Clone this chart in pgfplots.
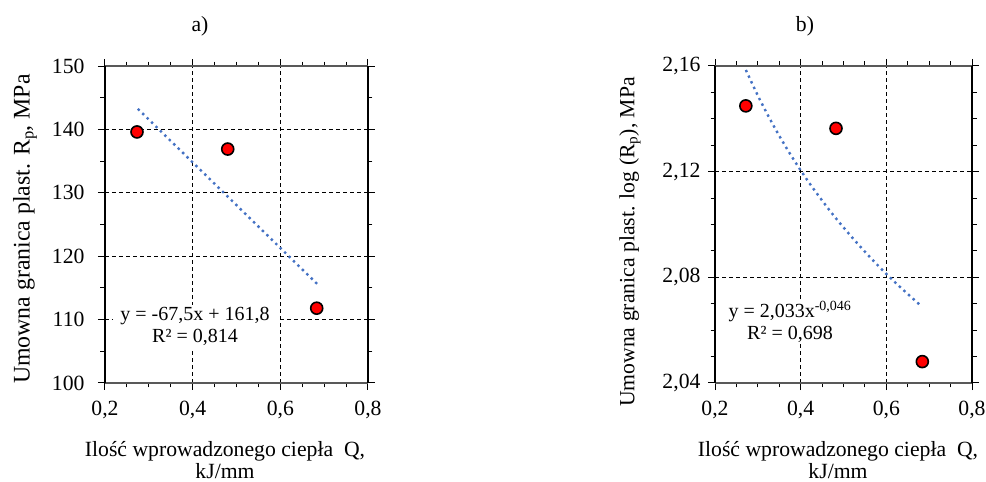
\documentclass[border=0pt]{standalone}
\usepackage{pgfplots}
\pgfplotsset{compat=1.18}
\usepackage{fontspec}
\setmainfont{Liberation Serif}
\definecolor{trend}{RGB}{68,114,196}
\newcommand\fs{\fontsize{21.7}{22}\selectfont}
\newcommand\fa{\fontsize{20}{22}\selectfont}
\pgfplotsset{
  common/.style={
    scale only axis, anchor=south west,
    xmin=0.2, xmax=0.8, xtick={0.2,0.4,0.6,0.8}, minor x tick num=3,
    tick align=outside, major tick length=7pt, minor tick length=4.5pt,
    tick style={black, line width=1pt},
    separate axis lines,
    x axis line style={line width=1.4pt, draw=gray!70!black},
    y axis line style={line width=1.4pt, draw=black},
    grid=major,
    major grid style={black, line width=0.9pt, dash pattern=on 4pt off 3pt},
    ticklabel style={font=\fs},
    /pgf/number format/assume math mode=true,
    /pgf/number format/use comma,
    xticklabel style={/pgf/number format/fixed, /pgf/number format/fixed zerofill, /pgf/number format/precision=1, yshift=-8pt},
    clip=false,
  },
  trendline/.style={draw=trend, line width=2.4pt, dash pattern=on 2.4pt off 3.8pt, mark=none},
  pts/.style={only marks, mark=*, mark size=6pt, mark options={fill=red, draw=black, line width=1.6pt}},
}
\begin{document}
\begin{tikzpicture}[x=1pt,y=1pt]
\path[use as bounding box] (0pt,0pt) rectangle (986pt,482pt);
% panel a
\begin{axis}[common, at={(105pt,99pt)}, width=263pt, height=317pt,
  ymin=100, ymax=150, ytick={100,110,120,130,140,150}, minor y tick num=1,
  yticklabel style={/pgf/number format/fixed, /pgf/number format/precision=0, xshift=-10pt}]
\addplot[trendline] coordinates {(0.275,143.24) (0.685,115.56)};
\addplot[pts] coordinates {(0.273,139.6) (0.48,136.9) (0.683,111.8)};
\end{axis}
% panel b
\begin{axis}[common, at={(715pt,99pt)}, width=257pt, height=317pt,
  ymin=2.04, ymax=2.16, ytick={2.04,2.08,2.12,2.16}, minor y tick num=3,
  yticklabel style={/pgf/number format/fixed, /pgf/number format/fixed zerofill, /pgf/number format/precision=2, xshift=-4pt}]
\addplot[trendline, smooth] coordinates {
(0.272,2.1585) (0.3,2.1488) (0.325,2.1409) (0.35,2.1336) (0.375,2.1268)
(0.4,2.1205) (0.425,2.1146) (0.45,2.1091) (0.475,2.1038) (0.5,2.0989)
(0.525,2.0942) (0.55,2.0897) (0.575,2.0854) (0.6,2.0813) (0.625,2.0774)
(0.65,2.0737) (0.683,2.0689)};
\addplot[pts] coordinates {(0.272,2.1449) (0.4825,2.1364) (0.684,2.0481)};
\end{axis}
% equation boxes
\node[fill=white, align=center, inner sep=0pt, minimum width=164pt, minimum height=43pt, font=\fa] at (195pt,155.5pt)
  {y = -67,5x + 161,8\\R² = 0,814};
\node[fill=white, align=center, inner sep=0pt, minimum width=124pt, minimum height=43pt, font=\fa] at (790pt,160pt)
  {y = 2,033x\textsuperscript{-0,046}\\R² = 0,698};
% titles
\node[font=\fs] at (200pt,456pt) {a)};
\node[font=\fs] at (805pt,456pt) {b)};
% y labels
\node[font=\fontsize{23.8}{24}\selectfont, rotate=90] at (25pt,253pt) {Umowna granica plast. R\textsubscript{p}, MPa};
\node[font=\fs, rotate=90] at (630pt,240pt) {Umowna granica plast. log (R\textsubscript{p}), MPa};
% x labels
\node[font=\fs, align=center] at (225pt,21.5pt) {Ilość wprowadzonego ciepła~~Q,\\kJ/mm};
\node[font=\fs, align=center] at (838pt,21.5pt) {Ilość wprowadzonego ciepła~~Q,\\kJ/mm};
\end{tikzpicture}
\end{document}
